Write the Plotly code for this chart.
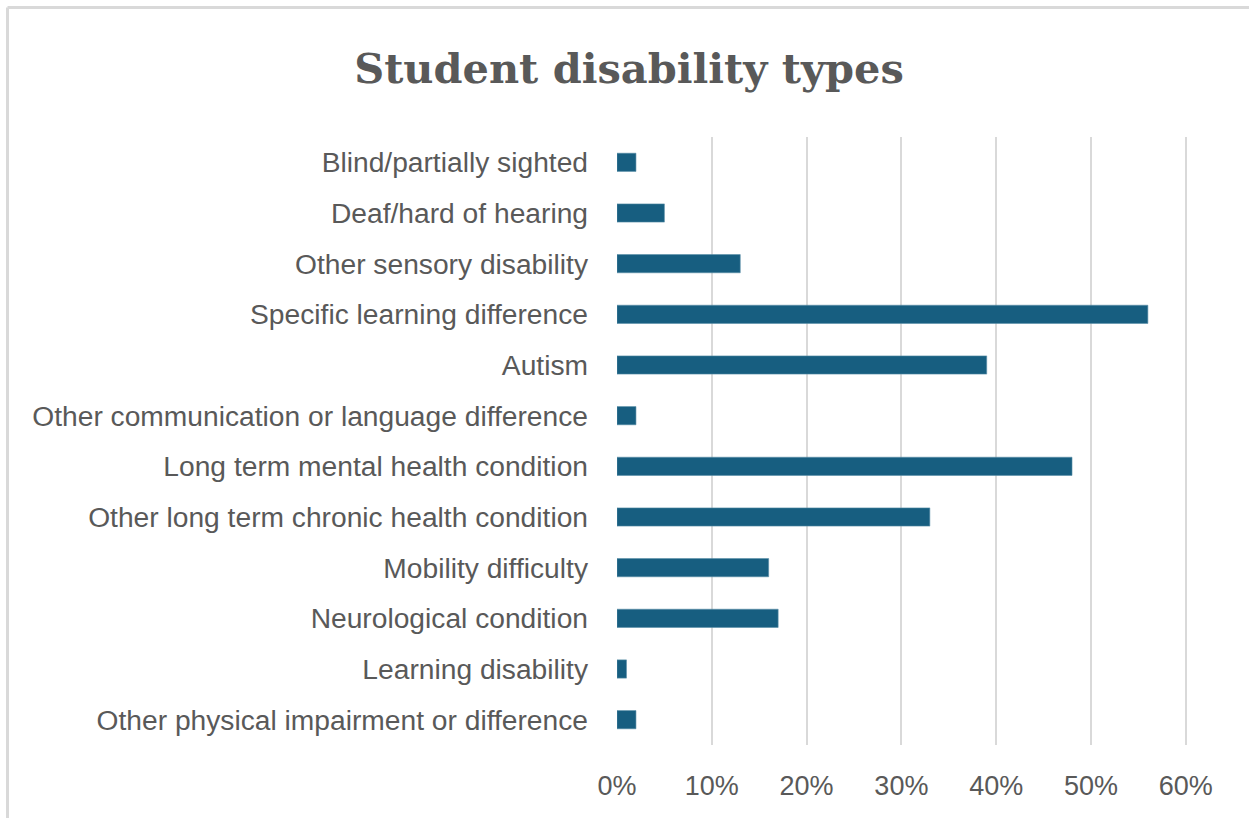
import plotly.graph_objects as go

categories = [
    "Blind/partially sighted",
    "Deaf/hard of hearing",
    "Other sensory disability",
    "Specific learning difference",
    "Autism",
    "Other communication or language difference",
    "Long term mental health condition",
    "Other long term chronic health condition",
    "Mobility difficulty",
    "Neurological condition",
    "Learning disability",
    "Other physical impairment or difference",
]
values = [0.02, 0.05, 0.13, 0.56, 0.39, 0.02, 0.48, 0.33, 0.16, 0.17, 0.01, 0.02]
tick_vals = [0, 0.1, 0.2, 0.3, 0.4, 0.5, 0.6]
tick_text = ["0%", "10%", "20%", "30%", "40%", "50%", "60%"]

W, H = 1249, 818
ML, MR, MT, MB = 617, 49, 137, 73
pw, ph = W - ML - MR, H - MT - MB

def px_x(x):
    return (x - ML) / pw

def px_y(y):
    return (H - MB - y) / ph

fig = go.Figure(go.Bar(
    y=categories, x=values, orientation="h",
    marker=dict(color="#175e80", line=dict(color="#5b8fa8", width=0.6)),
))

fig.update_layout(
    width=W, height=H,
    margin=dict(l=ML, r=MR, t=MT, b=MB, autoexpand=False),
    paper_bgcolor="white", plot_bgcolor="white",
    bargap=0.64,
    showlegend=False,
    title=dict(text="<b>Student disability types</b>", x=629 / W, xanchor="center",
               y=1 - 68 / H, yanchor="middle",
               font=dict(family="DejaVu Serif", size=41.5, color="#595959")),
    font=dict(family="Liberation Sans", color="#595959"),
    shapes=[
        dict(type="line", xref="paper", yref="paper", x0=px_x(7.5), x1=px_x(W + 5),
             y0=px_y(7.5), y1=px_y(7.5), line=dict(color="#d9d9d9", width=3)),
        dict(type="line", xref="paper", yref="paper", x0=px_x(7.5), x1=px_x(7.5),
             y0=px_y(7.5), y1=px_y(H + 5), line=dict(color="#d9d9d9", width=3)),
    ],
)
fig.update_xaxes(range=[0, 0.615], tickvals=tick_vals, ticktext=tick_text,
                 showgrid=True, gridcolor="#d9d9d9", gridwidth=2,
                 zeroline=False, showline=False, ticks="",
                 tickfont=dict(size=27, color="#595959"), ticklabelstandoff=22)
fig.update_yaxes(categoryorder="array", categoryarray=categories, autorange="reversed",
                 showgrid=False, zeroline=False, showline=False, ticks="",
                 tickfont=dict(size=28.2, color="#595959"), ticklabelstandoff=28)

fig.write_html("out.html")
